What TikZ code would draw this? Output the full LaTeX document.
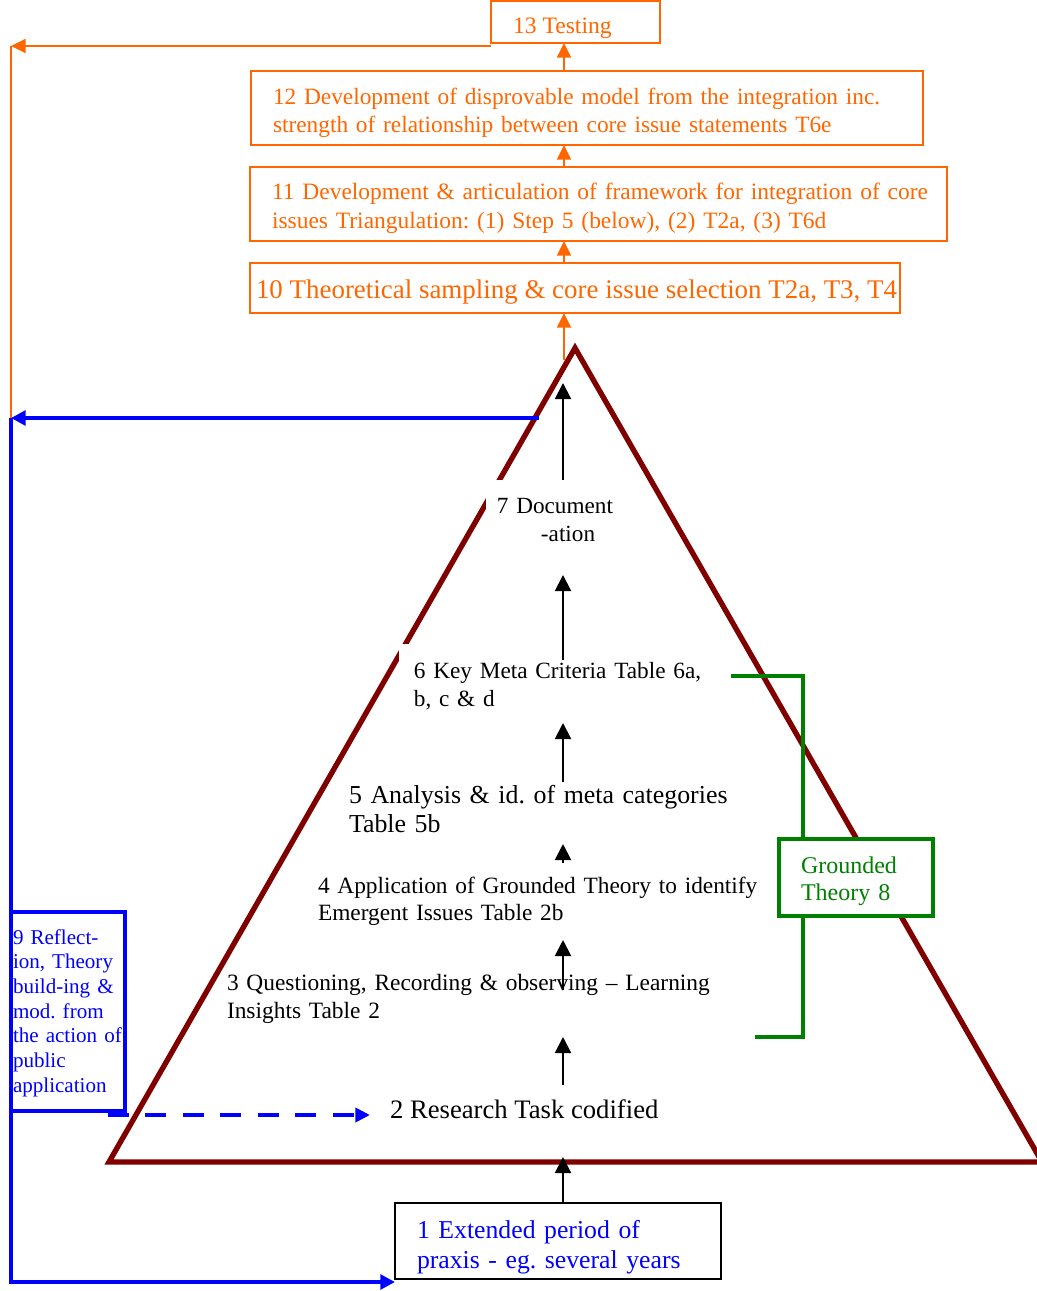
\documentclass[tikz,border=0pt]{standalone}
\usepackage{fontspec}
\setmainfont{Liberation Serif}
\usetikzlibrary{arrows.meta,calc}
\definecolor{orng}{RGB}{255,102,0}
\definecolor{blu}{RGB}{0,0,255}
\definecolor{drd}{RGB}{128,0,0}
\definecolor{grn}{RGB}{0,128,0}
\newcommand{\fsz}[2]{\fontsize{#1}{#2}\selectfont}
\frenchspacing

\begin{document}
\begin{tikzpicture}[x=0.75pt,y=-0.75pt,
  every node/.style={outer sep=0pt},
  obox/.style={draw=orng,line width=1.5pt,anchor=north west,inner sep=0pt},
  txt/.style={anchor=base west,inner sep=0pt,align=left},
  oline/.style={draw=orng,line width=1.5pt},
  oarr/.style={oline,-{Triangle[length=11pt,width=10.5pt]}},
  karr/.style={draw=black,line width=1.5pt,-{Triangle[length=12pt,width=12pt]}},
  bline/.style={draw=blu,line width=3.5pt},
  barr/.style={bline,-{Triangle[length=11pt,width=11pt]}},
  bdash/.style={draw=blu,line width=3.5pt,dash pattern=on 15.7pt off 12.4pt,-{Triangle[length=11pt,width=10.5pt]}},
  tri/.style={draw=drd,line width=4pt,line join=miter},
  gline/.style={draw=grn,line width=3.5pt},
  wtxt/.style={txt,fill=white,inner ysep=13.5pt},
]
\useasboundingbox (0,0) rectangle (1036,1291);

% ---------- orange boxes ----------
\node[obox,minimum width=126.75pt,minimum height=31.5pt] (b13) at (491,1) {};
\node[obox,minimum width=504pt,minimum height=55.5pt] (b12) at (251,71) {};
\node[obox,minimum width=522.75pt,minimum height=55.5pt] (b11) at (250,167) {};
\node[obox,minimum width=487.5pt,minimum height=37.5pt] (b10) at (250,263) {};

\node[txt,text=orng,font=\fsz{17.7}{21}] (t13) at (513,34) {13 Testing};
\node[txt,text=orng,font=\fsz{17.5}{21},text width=580pt] (t12) at (273,105)
  {12 Development of disprovable model from the integration inc.\\strength of relationship between core issue statements T6e};
\node[txt,text=orng,font=\fsz{17.6}{21},text width=600pt] (t11) at (272,200)
  {11 Development \& articulation of framework for integration of core\\issues Triangulation: (1) Step 5 (below), (2) T2a, (3) T6d};
\node[txt,text=orng,font=\fsz{20.2}{24}] (t10) at (256,298)
  {10 Theoretical sampling \& core issue selection T2a, T3, T4};

% ---------- triangle ----------
\coordinate (TA) at (575,348);
\coordinate (TL) at (109,1162);
\coordinate (TR) at (1042,1162);
\draw[tri] (TA) -- (TL) -- (TR) -- cycle;

% ---------- triangle texts ----------
\node[wtxt,inner xsep=8pt,font=\fsz{17.4}{21},text width=95pt] (t7) at (486.3,513)
  {7 Document\\\hspace*{33pt}-ation};
\node[wtxt,inner xsep=11pt,font=\fsz{17.45}{21},text width=225pt] (t6) at (399.3,678)
  {6 Key Meta Criteria Table 6a,\\b, c \& d};
\node[txt,font=\fsz{19.4}{21.75},text width=400pt] (t5) at (349,803)
  {5 Analysis \& id. of meta categories\\Table 5b};
\node[txt,font=\fsz{17.5}{20.25},text width=420pt] (t4) at (318,893)
  {4 Application of Grounded Theory to identify\\Emergent Issues Table 2b};
\node[txt,font=\fsz{17.55}{21.5},text width=420pt] (t3) at (227,990)
  {3 Questioning, Recording \& observing -- Learning\\Insights Table 2};
\node[txt,font=\fsz{20}{24}] (t2) at (390,1118) {2 Research Task codified};

% ---------- box 1 ----------
\node[draw=black,line width=1.5pt,anchor=north west,inner sep=0pt,
      minimum width=244.5pt,minimum height=57pt] (b1) at (395,1203) {};
\node[txt,text=blu,font=\fsz{19.3}{22.5},text width=230pt] (t1) at (417,1238)
  {1 Extended period of\\praxis - eg. several years};

% ---------- box 9 ----------
\node[draw=blu,line width=3.5pt,anchor=north west,inner sep=0pt,
      minimum width=85.5pt,minimum height=149.25pt] (b9) at (11,912) {};
\node[txt,text=blu,font=\fsz{15.8}{18.5},text width=90pt] (t9) at (13,944)
  {9 Reflect-\\ion, Theory\\build-ing \&\\mod. from\\the action of\\public\\application};

% ---------- grounded theory ----------
\coordinate (g1) at (731,676);
\coordinate (g2) at (803,676);
\coordinate (g3) at (803,1037);
\coordinate (g4) at (755,1037);
\node[draw=grn,fill=white,line width=3.5pt,anchor=north west,inner sep=0pt,
      minimum width=115.5pt,minimum height=57.75pt] (gt) at (779,839) {};
\node[txt,text=grn,font=\fsz{18}{20.25},text width=100pt] (tg) at (801,873)
  {Grounded\\Theory 8};
\draw[gline] (g1) -- (g2) -- (gt.north -| g2);
\draw[gline] (gt.south -| g3) -- (g3) -- (g4);

% ---------- orange connectors ----------
\coordinate (ox) at (564,0);
\coordinate (apexo) at (564,360);
\draw[oarr] (b12.north -| ox) -- (b13.south -| ox);
\draw[oarr] (b11.north -| ox) -- (b12.south -| ox);
\draw[oarr] (b10.north -| ox) -- (b11.south -| ox);
\draw[oarr] (apexo) -- (b10.south -| ox);
\coordinate (oc) at (11,46);
\coordinate (oe) at (11,430);
\draw[oarr] (b13.south west |- oc) -- (oc);
\draw[oline,line width=1.2pt] (oc) -- (oe);

% ---------- black connectors ----------
\coordinate (kx) at (563,0);
\coordinate (tb) at (563,1157);
\coordinate (a2s) at (563,1085); \coordinate (a2e) at (563,1037);
\coordinate (a3s) at (563,990);  \coordinate (a3e) at (563,940);
\coordinate (a4s) at (563,863);  \coordinate (a4e) at (563,844);
\coordinate (a5s) at (563,782);  \coordinate (a5e) at (563,723);
\coordinate (a6s) at (563,660);  \coordinate (a6e) at (563,575);
\coordinate (a7e) at (563,383);
\draw[karr] (b1.north -| kx) -- (tb);
\draw[karr] (a2s) -- (a2e);
\draw[karr] (a3s) -- (a3e);
\draw[karr] (a4s) -- (a4e);
\draw[karr] (a5s) -- (a5e);
\draw[karr] (a6s) -- (a6e);
\draw[karr] (t7.north -| kx) -- (a7e);

% ---------- blue connectors ----------
\coordinate (bs) at (539,418);
\coordinate (bc) at (11,418);
\coordinate (bb) at (11,1282);
\draw[barr] (bs) -- (bc);
\draw[barr] (bc) -- (bb) -- (b1.south west |- bb);
\draw[bdash] ([xshift=-12.75pt,yshift=-3pt]b9.south east) -- ([xshift=-15pt,yshift=2.25pt]t2.base west);
\end{tikzpicture}
\end{document}
